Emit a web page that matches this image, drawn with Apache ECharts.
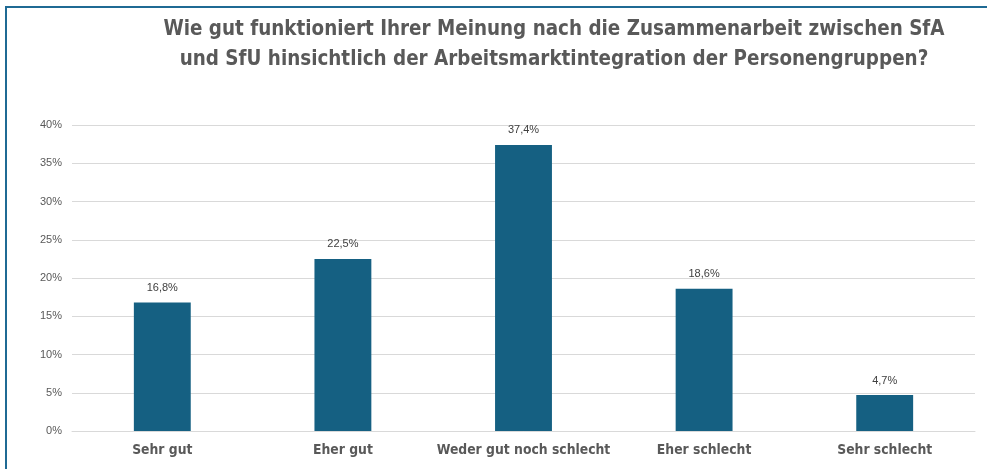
<!DOCTYPE html>
<html>
<head>
<meta charset="utf-8">
<script src="https://cdn.jsdelivr.net/npm/echarts@6/dist/echarts.min.js"></script>
<style>
html, body { margin: 0; padding: 0; background: #fff; }
#chart { width: 987px; height: 469px; }
</style>
</head>
<body>
<div id="chart"></div>
<script>
var categories = ['Sehr gut', 'Eher gut', 'Weder gut noch schlecht', 'Eher schlecht', 'Sehr schlecht'];
var values = [16.8, 22.5, 37.4, 18.6, 4.7];
var titleText = 'Wie gut funktioniert Ihrer Meinung nach die Zusammenarbeit zwischen SfA\nund SfU hinsichtlich der Arbeitsmarktintegration der Personengruppen?';

var myChart = echarts.init(document.getElementById('chart'));

var option = {
    backgroundColor: '#fff',
    animation: false,
    title: {
        text: titleText,
        left: 549,
        top: 10,
        textAlign: 'center',
        textStyle: {
            fontFamily: "'DejaVu Sans Condensed', Roboto, sans-serif",
            fontWeight: 'bold',
            fontSize: 20.4,
            lineHeight: 30,
            color: '#595959'
        }
    },
    graphic: [{
        type: 'rect',
        shape: { x: 6, y: 7, width: 1000, height: 500 },
        style: { fill: 'none', stroke: '#1f6a94', lineWidth: 2 },
        silent: true
    }],
    grid: {
        left: 72,
        right: 12,
        top: 125,
        bottom: 38
    },
    xAxis: {
        type: 'category',
        data: categories,
        axisTick: { show: false },
        axisLine: { lineStyle: { color: '#d9d9d9' } },
        axisLabel: {
            interval: 0,
            margin: 12,
            fontFamily: "'DejaVu Sans Condensed', Roboto, sans-serif",
            fontWeight: 'bold',
            fontSize: 13.8,
            color: '#595959'
        }
    },
    yAxis: {
        type: 'value',
        min: 0,
        max: 40,
        interval: 5,
        axisLine: { show: false },
        axisTick: { show: false },
        splitLine: { lineStyle: { color: '#d9d9d9' } },
        axisLabel: {
            margin: 10,
            fontFamily: 'Arial, Liberation Sans',
            fontSize: 11,
            color: '#595959',
            formatter: '{value}%'
        }
    },
    series: [{
        type: 'bar',
        data: values,
        barWidth: '31.5%',
        itemStyle: { color: '#156082' },
        label: {
            show: true,
            position: 'top',
            distance: 9,
            fontFamily: 'Arial, Liberation Sans',
            fontSize: 11,
            color: '#404040',
            formatter: function (p) {
                return p.value.toFixed(1).replace('.', ',') + '%';
            }
        }
    }]
};

myChart.setOption(option);
</script>
</body>
</html>
